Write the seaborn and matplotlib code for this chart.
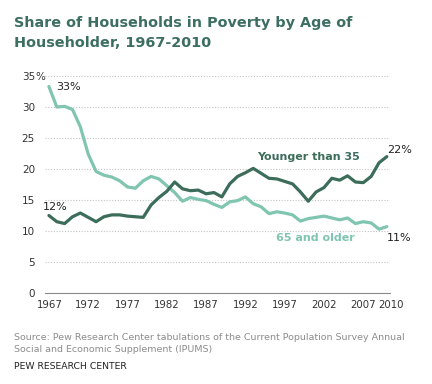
import matplotlib
matplotlib.use("Agg")
import matplotlib.pyplot as plt
import matplotlib.transforms as mtransforms
import seaborn as sns
import pandas as pd
import numpy as np

years = list(range(1967, 2011))
younger_than_35 = [12.5, 11.5, 11.2, 12.3, 12.9, 12.2, 11.5, 12.3, 12.6, 12.6,
                   12.4, 12.3, 12.2, 14.2, 15.4, 16.4, 17.9, 16.8, 16.5, 16.6,
                   16.0, 16.2, 15.5, 17.6, 18.8, 19.4, 20.1, 19.3, 18.5, 18.4,
                   18.0, 17.6, 16.3, 14.8, 16.3, 17.0, 18.5, 18.2, 18.9, 17.9,
                   17.8, 18.8, 21.0, 22.0]
older_65 = [33.3, 30.0, 30.1, 29.6, 26.8, 22.4, 19.6, 19.0, 18.7, 18.1,
            17.1, 16.9, 18.1, 18.8, 18.4, 17.3, 16.2, 14.8, 15.4, 15.1,
            14.9, 14.3, 13.8, 14.7, 14.9, 15.5, 14.4, 13.9, 12.8, 13.1,
            12.9, 12.6, 11.6, 12.0, 12.2, 12.4, 12.1, 11.8, 12.1, 11.2,
            11.5, 11.3, 10.3, 10.7]
series_names = ["Younger than 35", "65 and older"]
start_labels = ["12%", "33%"]
end_labels = ["22%", "11%"]
xtick_years = [1967, 1972, 1977, 1982, 1987, 1992, 1997, 2002, 2007, 2010]
yticks = [0, 5, 10, 15, 20, 25, 30, 35]

DARK = "#3c6d5b"
LIGHT = "#80c5b0"
TITLE = "#3d6e62"

df = pd.DataFrame({
    "year": years * 2,
    "value": younger_than_35 + older_65,
    "series": [series_names[0]] * len(years) + [series_names[1]] * len(years),
})

sns.set_theme(style="white")
plt.rcParams["font.family"] = ["DejaVu Sans"]

fig = plt.figure(figsize=(4.32, 3.84), dpi=100)
ax = fig.add_axes([45 / 432, 1 - 293 / 384, 345 / 432, 217 / 384])

sns.lineplot(data=df, x="year", y="value", hue="series",
             palette={series_names[0]: DARK, series_names[1]: LIGHT},
             hue_order=[series_names[1], series_names[0]],
             linewidth=2.3, legend=False, ax=ax)

ax.set_xlim(1966.5, 2010.4)
ax.set_ylim(0, 35)
ax.set_xlabel("")
ax.set_ylabel("")

ax.set_xticks(xtick_years)
ax.set_xticklabels([str(y) for y in xtick_years])
ax.set_xticks([y - 0.5 for y in xtick_years[:-1]] + [2010.4], minor=True)
ax.tick_params(axis="x", which="major", length=0, pad=5.0, labelsize=7.3,
               colors="#333333")
ax.tick_params(axis="x", which="minor", length=3.5, direction="in",
               color="#888888", width=0.8)
# nudge the last label ("2010") right so it does not touch "2007"
last = ax.get_xticklabels()[-1]
last.set_transform(last.get_transform() +
                   mtransforms.ScaledTranslation(4 / 100, 0, fig.dpi_scale_trans))
first = ax.get_xticklabels()[0]
first.set_transform(first.get_transform() +
                    mtransforms.ScaledTranslation(1 / 100, 0, fig.dpi_scale_trans))

ax.set_yticks(yticks)
ax.set_yticklabels([str(v) for v in yticks])
ax.tick_params(axis="y", length=0, pad=7.2, labelsize=7.5, colors="#333333")
ax.annotate("%", xy=(0, 35), xycoords=("axes fraction", "data"),
            xytext=(-7.2, 0), textcoords="offset points", ha="left",
            va="center_baseline", fontsize=7.5, color="#333333")

ax.grid(axis="y", color="#c4c4c4", linestyle=(0, (1, 1.5)), linewidth=0.8)
ax.grid(axis="x", visible=False)
for s in ["top", "right", "left"]:
    ax.spines[s].set_visible(False)
ax.spines["bottom"].set_color("#8a8a8a")
ax.spines["bottom"].set_linewidth(0.8)
ax.set_axisbelow(True)

# endpoint labels
ax.annotate(start_labels[0], xy=(years[0], younger_than_35[0]),
            xytext=(4.7, 5.8), textcoords="offset points", ha="center",
            va="center", fontsize=8, color="#222222")
ax.annotate(start_labels[1], xy=(years[0], older_65[0]),
            xytext=(5.4, 0), textcoords="offset points", ha="left",
            va="center", fontsize=8, color="#222222")
ax.annotate(end_labels[0], xy=(years[-1], younger_than_35[-1]),
            xytext=(0, 4.8), textcoords="offset points", ha="left",
            va="center", fontsize=8, color="#222222")
ax.annotate(end_labels[1], xy=(years[-1], older_65[-1]),
            xytext=(0, -7.9), textcoords="offset points", ha="left",
            va="center", fontsize=8, color="#222222")

# series labels
ax.text(2000.0, 21.9, series_names[0], ha="center", va="center",
        fontsize=8, fontweight="bold", color=DARK)
ax.text(2000.9, 8.9, series_names[1], ha="center", va="center",
        fontsize=8, fontweight="bold", color=LIGHT)

# title
fig.text(14 / 432, 1 - 27 / 384, "Share of Households in Poverty by Age of",
         ha="left", va="baseline", fontsize=10.4, fontweight="bold", color=TITLE)
fig.text(14 / 432, 1 - 47 / 384, "Householder, 1967-2010",
         ha="left", va="baseline", fontsize=10.4, fontweight="bold", color=TITLE)

# source
fig.text(14 / 432, 1 - 340 / 384,
         "Source: Pew Research Center tabulations of the Current Population Survey Annual",
         ha="left", va="baseline", fontsize=6.8, color="#8c8c8c")
fig.text(14 / 432, 1 - 351.5 / 384,
         "Social and Economic Supplement (IPUMS)",
         ha="left", va="baseline", fontsize=6.8, color="#8c8c8c")
fig.text(14 / 432, 1 - 369 / 384, "PEW RESEARCH CENTER",
         ha="left", va="baseline", fontsize=6.7, color="#222222")

fig.savefig("out.png", dpi=100)
